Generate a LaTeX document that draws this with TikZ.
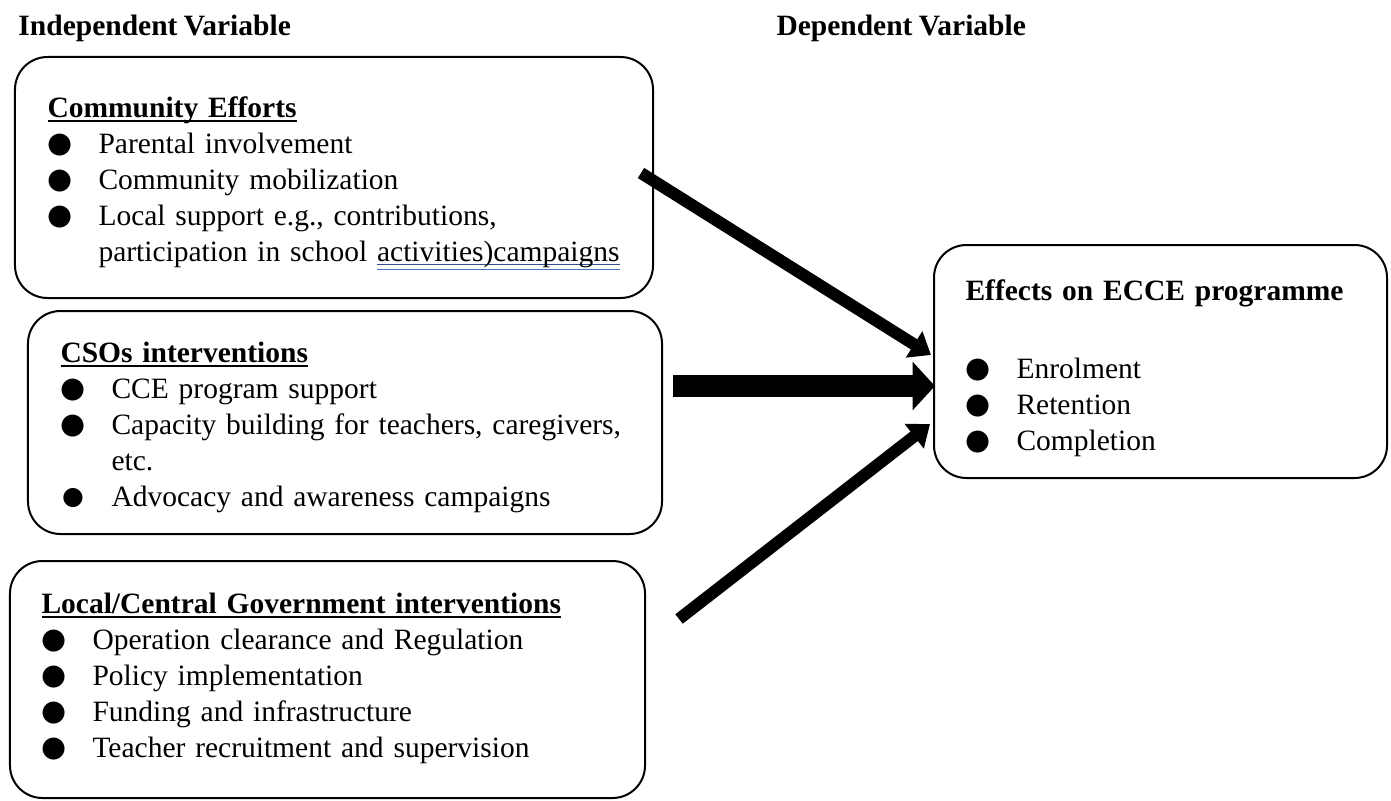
\documentclass[tikz,border=0pt]{standalone}
\usepackage{fontspec}
\setmainfont{Liberation Serif}[WordSpace=0.85]
\newfontfamily\dotfont{DejaVu Sans}
\usetikzlibrary{arrows.meta}
\usetikzlibrary{calc}

\definecolor{gramblue}{RGB}{68,114,196}
\newcommand{\itm}[1]{\makebox[20.4pt][l]{\raisebox{0.4pt}{\dotfont\fontsize{11.5}{12}\selectfont ●}}#1}
\newcommand{\itmsmall}[1]{\makebox[20.4pt][l]{\hspace{0.6pt}\raisebox{0.6pt}{\dotfont\fontsize{10}{10}\selectfont ●}}#1}
\newcommand{\cont}{\hspace*{20.4pt}}
\newcommand{\hd}[1]{\setbox0\hbox{\textbf{#1}}\rlap{\rule[-1.8pt]{\wd0}{0.7pt}}\box0}
\newcommand{\gram}[1]{\setbox0\hbox{#1}\rlap{\color{gramblue!70!black}\rule[-1.5pt]{\wd0}{0.4pt}}\rlap{\color{gramblue}\rule[-3.6pt]{\wd0}{0.5pt}}\box0}

\begin{document}
\begin{tikzpicture}[
    x=0.4pt, y=-0.4pt,
    box/.style={draw=black, line width=0.8pt, rounded corners=13pt, inner sep=0pt},
    txt/.style={anchor=base west, inner sep=0pt, text width=240pt, align=left, font=\fontsize{11.8}{14.4}\selectfont},
    lbl/.style={anchor=base west, inner sep=0pt, font=\fontsize{11.8}{14.4}\selectfont\bfseries},
    arrow/.style={-{Triangle[length=8pt, width=12pt]}, line width=4.8pt},
    bigarrow/.style={-{Triangle[length=9pt, width=19pt]}, line width=8.8pt}
]
\useasboundingbox (0,0) rectangle (1391,800);

\node[lbl] (indep) at (18,35) {Independent Variable};
\node[lbl] (dep) at (776,35) {Dependent Variable};

% left side boxes
\node[box, minimum width=255.2pt, minimum height=96.4pt] (comm) at (334,177.5) {};
\node[box, minimum width=253.6pt, minimum height=89.2pt] (cso) at (345,422.5) {};
\node[box, minimum width=254pt, minimum height=94.8pt] (gov) at (327.5,679.5) {};

\node[txt] (commtxt) at (47,117) {\hd{Community Efforts}\\
  \itm{Parental involvement}\\
  \itm{Community mobilization}\\
  \itm{Local support e.g., contributions,}\\
  \cont participation in school \gram{activities)campaigns}};

\node[txt] (csotxt) at (60,362) {\hd{CSOs interventions}\\
  \itm{CCE program support}\\
  \itm{Capacity building for teachers, caregivers,}\\
  \cont etc.\\
  \itmsmall{Advocacy and awareness campaigns}};

\node[txt] (govtxt) at (41,613) {\hd{Local/Central Government interventions}\\
  \itm{Operation clearance and Regulation}\\
  \itm{Policy implementation}\\
  \itm{Funding and infrastructure}\\
  \itm{Teacher recruitment and supervision}};

% right side box
\node[box, minimum width=181.2pt, minimum height=93.2pt] (effects) at (1160.5,361.5) {};
\node[txt] (efftxt) at (965,300) {\textbf{Effects on ECCE programme}\\[16.8pt]
  \itm{Enrolment}\\
  \itm{Retention}\\
  \itm{Completion}};

% arrows
\draw[arrow] ($(comm.east)+(-13,-4.5)$) -- ($(effects.west)+(-2,-6.5)$);
\draw[bigarrow] ($(cso.east)+(10,-36.5)$) -- ($(effects.west)+(2,24.5)$);
\draw[arrow] ($(gov.east)+(33,-60.5)$) -- ($(effects.west)+(-3,62.5)$);
\end{tikzpicture}
\end{document}
